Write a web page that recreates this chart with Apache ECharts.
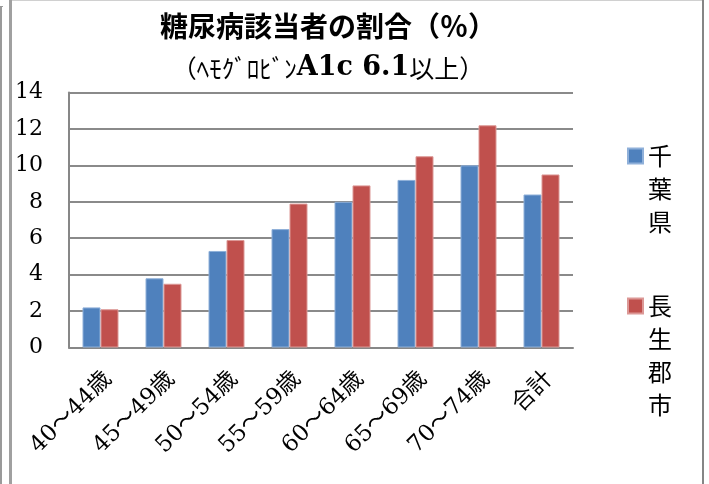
<!DOCTYPE html>
<html>
<head>
<meta charset="utf-8">
<script src="https://cdn.jsdelivr.net/npm/echarts@6/dist/echarts.min.js"></script>
<style>
html,body{margin:0;padding:0;background:#fff;}
#main{width:709px;height:484px;}
</style>
</head>
<body>
<div id="main"></div>
<script>
const categories = ['40～44歳','45～49歳','50～54歳','55～59歳','60～64歳','65～69歳','70～74歳','合計'];
const seriesNames = ['千葉県','長生郡市'];
const chibaValues = [2.2, 3.8, 5.3, 6.5, 8.0, 9.2, 10.0, 8.4];
const choseiValues = [2.1, 3.5, 5.9, 7.9, 8.9, 10.5, 12.2, 9.5];
const yMin = 0, yMax = 14, yInterval = 2;

const chart = echarts.init(document.getElementById('main'), null, {renderer:'canvas'});
const cjk = '"Noto Sans CJK JP", sans-serif';
const serif = '"DejaVu Serif", "Noto Sans CJK JP", serif';

function vertLegend(name, lead) {
  return '\n'.repeat(lead) + name.split('').join('\n');
}

const option = {
  animation: false,
  backgroundColor: '#ffffff',
  title: {
    left: 328,
    top: 5,
    padding: 0,
    textAlign: 'center',
    text: '{a|糖尿病該当者の割合（％）}\n{b|（ﾍﾓｸﾞﾛﾋﾞﾝ}{c|A1c 6.1}{b|以上）}',
    textStyle: {
      rich: {
        a: {fontFamily: cjk, fontSize: 28, fontWeight: 'bold', color: '#000', lineHeight: 42},
        b: {fontFamily: cjk, fontSize: 25, fontWeight: 'normal', color: '#000', lineHeight: 42},
        c: {fontFamily: '"DejaVu Serif", serif', fontSize: 27, fontWeight: 'bold', color: '#000', lineHeight: 42}
      }
    }
  },
  legend: [
    {
      data: [seriesNames[0]],
      orient: 'vertical',
      left: 627,
      top: 73.5,
      padding: 0,
      itemWidth: 15,
      itemHeight: 15,
      icon: 'rect',
      formatter: n => vertLegend(n, 2),
      textStyle: {fontFamily: cjk, fontSize: 24, lineHeight: 33, color: '#000'}
    },
    {
      data: [seriesNames[1]],
      orient: 'vertical',
      left: 627,
      top: 190.5,
      padding: 0,
      itemWidth: 15,
      itemHeight: 15,
      icon: 'rect',
      formatter: n => vertLegend(n, 3),
      textStyle: {fontFamily: cjk, fontSize: 24, lineHeight: 33, color: '#000'}
    }
  ],
  grid: {left: 69, right: 136, top: 92.5, bottom: 136.5, containLabel: false},
  xAxis: {
    type: 'category',
    data: categories,
    axisLine: {show: true, lineStyle: {color: '#878787', width: 2}},
    axisTick: {show: false},
    axisLabel: {
      rotate: 45,
      margin: 36,
      padding: [0, -11, 0, 0],
      interval: 0,
      fontFamily: serif,
      fontSize: 23,
      color: '#000'
    }
  },
  yAxis: {
    type: 'value',
    min: yMin,
    max: yMax,
    interval: yInterval,
    axisLine: {show: true, lineStyle: {color: '#878787', width: 2}},
    axisTick: {show: false},
    splitLine: {show: true, lineStyle: {color: '#8a8a8a', width: 2}},
    axisLabel: {margin: 26, fontFamily: serif, fontSize: 22, color: '#000'}
  },
  series: [
    {
      name: seriesNames[0],
      type: 'bar',
      data: chibaValues,
      barWidth: 18,
      barGap: '0%',
      itemStyle: {color: '#4F81BD', borderColor: '#8fb0d9', borderWidth: 1}
    },
    {
      name: seriesNames[1],
      type: 'bar',
      data: choseiValues,
      barWidth: 18,
      barGap: '0%',
      itemStyle: {color: '#C0504D', borderColor: '#dc9896', borderWidth: 1}
    }
  ],
  graphic: [
    {type: 'rect', shape: {x: 0, y: 6, width: 2, height: 478}, style: {fill: '#9a9a9a'}, silent: true},
    {type: 'rect', shape: {x: 0, y: 6, width: 3, height: 1}, style: {fill: '#9a9a9a'}, silent: true},
    {type: 'rect', shape: {x: 9, y: 0, width: 3, height: 484}, style: {fill: '#a0a0a0'}, silent: true},
    {type: 'rect', shape: {x: 12, y: 0, width: 690, height: 1}, style: {fill: '#d0d0d0'}, silent: true},
    {type: 'rect', shape: {x: 702, y: 0, width: 2, height: 484}, style: {fill: '#858585'}, silent: true}
  ]
};
chart.setOption(option);
</script>
</body>
</html>
